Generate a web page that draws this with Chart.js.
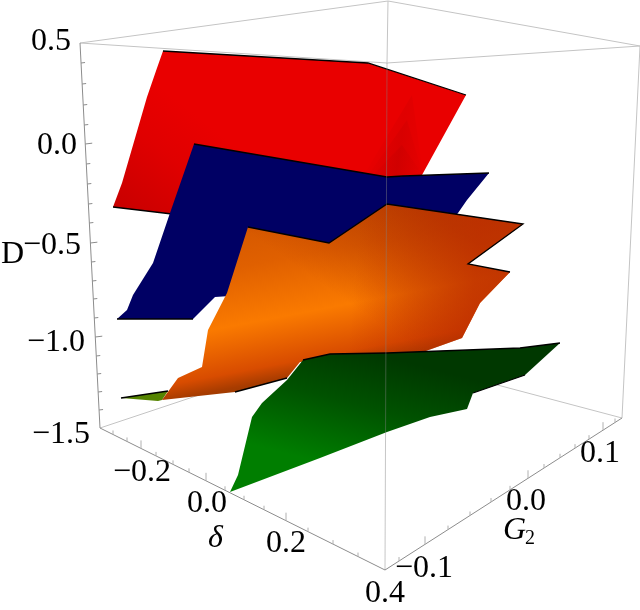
<!DOCTYPE html>
<html>
<head>
<meta charset="utf-8">
<script src="https://cdn.jsdelivr.net/npm/chart.js@4"></script>
<style>
  html, body { margin: 0; padding: 0; background: #fff; }
  canvas { display: block; }
</style>
</head>
<body>
<canvas id="myChart" width="640" height="610"></canvas>
<script>
// outlines of the four surfaces
const redX = [163, 368, 466, 422, 403, 387, 172, 113, 122, 147, 157];
const redY = [51, 63, 95, 175, 176, 178, 214, 207, 183, 97, 68];
// dark streak on the red sheet, three faint layers so it fades upward
const redShadeX = [[362, 412, 423], [366, 407, 423], [370, 402, 423]];
const redShadeY = [[178, 95, 175], [178, 120, 175], [178, 145, 175]];
const blueX = [194, 387, 403, 489, 467, 458, 440, 330, 230, 215, 193, 117, 127, 133, 153, 170];
const blueY = [144, 177, 176, 173, 200, 213, 235, 260, 296, 297, 319, 319, 310, 295, 263, 213];
const orangeX = [248, 329, 387, 523, 468, 510, 480, 462, 423, 300, 287, 235, 162, 178, 202, 208, 227];
const orangeY = [227, 243, 204, 224, 264, 272, 303, 338, 352, 362, 378, 392, 400, 378, 367, 330, 293];
const greenBackX = [121, 168, 162, 158];
const greenBackY = [398, 391, 400, 401];
const greenX = [303, 330, 387, 520, 560, 525, 473, 467, 430, 387, 320, 230, 238, 252, 262, 287];
const greenY = [360, 354, 353, 348, 343, 375, 393, 409, 417, 432, 458, 492, 475, 417, 403, 380];

// tick marks along the three axes
const dTickY = [43, 63, 84, 105, 125, 144, 164, 184, 204, 223, 243, 262, 281, 299, 318, 337, 356, 374, 392, 410, 428];
const deltaTickX = [113, 127, 141, 156, 173, 189, 206, 225, 244, 264, 286, 308, 333, 358];
const g2TickX = [399, 425, 448, 470, 491, 510, 528, 544, 560, 575, 589, 603, 615];

// tick labels
const dTickLabels = ['0.5', '0.0', '\u22120.5', '\u22121.0', '\u22121.5'];
const deltaTickLabels = ['\u22120.2', '0.0', '0.2', '0.4'];
const g2TickLabels = ['\u22120.1', '0.0', '0.1'];

// where the labels sit, left edge and baseline
const dLabelAt = [[31, 50], [37, 154], [23, 254], [27, 351], [32, 443]];
const deltaLabelAt = [[113, 481], [187, 512], [266, 552], [365, 602]];
const g2LabelAt = [[395, 577], [506, 510], [580, 462]];

function pts(xs, ys) {
    return xs.map((x, i) => ({ x: x, y: ys[i] }));
}

// straight line between two axis ends, read at a given x or y
function alongY(a, b, y) {
    return a[0] + (b[0] - a[0]) * (y - a[1]) / (b[1] - a[1]);
}
function alongX(a, b, x) {
    return a[1] + (b[1] - a[1]) * (x - a[0]) / (b[0] - a[0]);
}

const leftTop = [80, 43], leftBottom = [100, 428], front = [385, 570], rightBottom = [622, 418];

// tick segments, separated by a gap. every nth one is longer
function tickLines(starts, isMajor, dx, dy, minorLen, majorLen) {
    const out = [];
    starts.forEach((p, i) => {
        const len = isMajor(i) ? majorLen : minorLen;
        out.push({ x: p[0], y: p[1] });
        out.push({ x: p[0] + dx * len, y: p[1] + dy * len });
        out.push({ x: NaN, y: NaN });
    });
    return out;
}

const dTicks = tickLines(dTickY.slice(1, -1).map(y => [alongY(leftTop, leftBottom, y), y]),
    i => (i + 1) % 5 === 0, 1, -0.12, 4, 7);
const deltaTicks = tickLines(deltaTickX.map(x => [x, alongX(leftBottom, front, x)]),
    i => i % 4 === 2, 0, -1, 4, 8);
const g2Ticks = tickLines(g2TickX.map(x => [x, alongX(front, rightBottom, x)]),
    i => i % 5 === 1, 0, -1, 4, 8);

function grad(chart, x0, y0, x1, y1, stops) {
    const g = chart.ctx.createLinearGradient(x0, y0, x1, y1);
    stops.forEach(s => g.addColorStop(s[0], s[1]));
    return g;
}

function surface(xs, ys, color) {
    return {
        data: pts(xs, ys), showLine: true, fill: 'shape', backgroundColor: color,
        borderWidth: 0, borderColor: 'rgba(0,0,0,0)', pointRadius: 0, tension: 0
    };
}
function stroke(data, color, width) {
    return {
        data: data, showLine: true, fill: false, borderColor: color,
        borderWidth: width, pointRadius: 0, tension: 0, spanGaps: false
    };
}
function edge(xs, ys, from, to) {
    return stroke(pts(xs, ys).slice(from, to + 1), '#000', 1.3);
}

const backColor = '#c4c4c4';
const axisColor = '#8c8c8c';

const redFill = c => grad(c.chart, 113, 207, 190, 110, [[0, '#c80000'], [0.6, '#e00000'], [1, '#e90000']]);
const redShadeFill = c => grad(c.chart, 362, 145, 430, 155, [[0, 'rgba(110,0,0,0)'], [0.55, 'rgba(110,0,0,0.07)'], [1, 'rgba(110,0,0,0)']]);
const orangeFill = c => grad(c.chart, 271, 197, 310, 403, [
    [0, '#cc4e00'], [0.157, '#d85a00'], [0.3, '#e06000'], [0.57, '#fa7a00'], [0.79, '#d84c00'], [0.86, '#a83c00'], [0.93, '#8c3a00'], [1, '#8c3a00']
]);
// upper right goes darker, lower right goes redder
const orangeUpperFill = c => grad(c.chart, 330, 290, 400, 190, [[0, 'rgba(160,40,0,0)'], [1, 'rgba(160,40,0,0.6)']]);
const orangeRightFill = c => grad(c.chart, 350, 330, 470, 340, [[0, 'rgba(190,40,0,0)'], [1, 'rgba(190,40,0,0.6)']]);
const greenFill = c => grad(c.chart, 360, 350, 330, 465, [[0, '#003800'], [0.45, '#005200'], [1, '#007e00']]);

// first in the list is painted first
const layers = [
    stroke(pts([80, 388, 640], [43, 1, 46]), backColor, 1),
    stroke(pts([80, 387, 640], [43, 63, 46]), backColor, 1),
    stroke(pts([640, 622], [46, 418]), backColor, 1),
    stroke(pts([100, 388], [428, 332]), backColor, 1),
    stroke(pts([622, 388], [418, 356]), backColor, 1),
    stroke(pts([388, 387], [1, 63]), backColor, 1),
    stroke(pts([80, 100], [43, 428]), axisColor, 1),
    stroke(pts([100, 385, 622], [428, 570, 418]), axisColor, 1),
    stroke(dTicks, axisColor, 1),
    stroke(deltaTicks, '#b0b0b0', 1),
    stroke(g2Ticks, '#b0b0b0', 1),
    surface(greenBackX, greenBackY, '#558400'),
    edge(greenBackX, greenBackY, 0, 1),
    surface(redX, redY, redFill),
    surface(redShadeX[0], redShadeY[0], redShadeFill),
    surface(redShadeX[1], redShadeY[1], redShadeFill),
    surface(redShadeX[2], redShadeY[2], redShadeFill),
    edge(redX, redY, 0, 2),
    edge(redX, redY, 6, 7),
    surface(blueX, blueY, '#000064'),
    edge(blueX, blueY, 0, 3),
    edge(blueX, blueY, 10, 11),
    surface(orangeX, orangeY, orangeFill),
    surface(orangeX, orangeY, orangeUpperFill),
    surface(orangeX, orangeY, orangeRightFill),
    edge(orangeX, orangeY, 0, 5),
    edge(orangeX, orangeY, 10, 11),
    surface(greenX, greenY, greenFill),
    edge(greenX, greenY, 0, 4),
    edge(greenX, greenY, 5, 6),
    stroke(pts([387, 385], [63, 570]), 'rgba(128,128,128,0.45)', 1)
];
layers.forEach((d, i) => { d.order = layers.length - i; });

// all the text of the plot, placed through the scales
const textPlugin = {
    id: 'plotText',
    afterDraw(chart) {
        const ctx = chart.ctx, sx = chart.scales.x, sy = chart.scales.y;
        function put(str, at, font) {
            ctx.font = font;
            ctx.fillText(str, sx.getPixelForValue(at[0]), sy.getPixelForValue(at[1]));
        }
        const num = '32px "Liberation Serif"';
        const ital = 'italic 32px "Liberation Serif"';
        ctx.save();
        ctx.fillStyle = '#000';
        ctx.textAlign = 'left';
        ctx.textBaseline = 'alphabetic';
        dTickLabels.forEach((t, i) => put(t, dLabelAt[i], num));
        deltaTickLabels.forEach((t, i) => put(t, deltaLabelAt[i], num));
        g2TickLabels.forEach((t, i) => put(t, g2LabelAt[i], num));
        put('D', [1, 263], num);
        put('\u03b4', [208, 547], ital);
        put('G', [503, 539], ital);
        put('2', [525, 544], '20px "Liberation Serif"');
        ctx.restore();
    }
};

const myChart = new Chart(document.getElementById('myChart').getContext('2d'), {
    type: 'scatter',
    data: { datasets: layers },
    options: {
        responsive: false,
        animation: false,
        layout: { padding: 0 },
        clip: false,
        plugins: { legend: { display: false }, tooltip: { enabled: false } },
        scales: {
            x: { type: 'linear', min: 0, max: 640, display: false },
            y: { type: 'linear', min: 0, max: 610, reverse: true, display: false }
        }
    },
    plugins: [textPlugin]
});
</script>
</body>
</html>
